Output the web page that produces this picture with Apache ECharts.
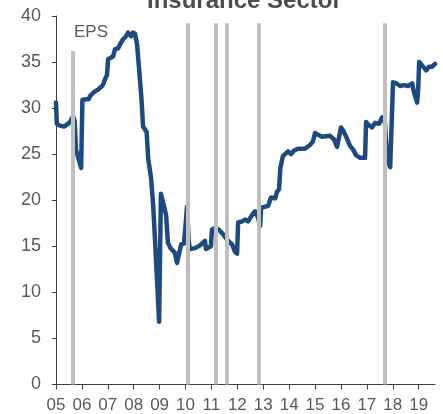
<!DOCTYPE html>
<html>
<head>
<meta charset="utf-8">
<script src="https://cdn.jsdelivr.net/npm/echarts@6/dist/echarts.min.js"></script>
<style>
html,body{margin:0;padding:0;background:#fff;}
#chart{width:443px;height:414px;}
</style>
</head>
<body>
<div id="chart"></div>
<script>
// Data
var titleText = 'Insurance Sector';
var seriesLabel = 'EPS';
var epsYears = [2005.00,2005.03,2005.15,2005.31,2005.42,2005.54,2005.66,2005.72,2005.77,2005.90,2005.97,
  2006.02,2006.27,2006.31,2006.45,2006.51,2006.62,2006.70,2006.81,2006.90,2006.97,
  2007.01,2007.20,2007.28,2007.40,2007.47,2007.59,2007.70,2007.78,2007.90,2007.97,
  2008.05,2008.13,2008.20,2008.24,2008.30,2008.36,2008.42,2008.50,2008.56,2008.67,2008.75,2008.82,2008.98,
  2009.05,2009.13,2009.25,2009.32,2009.42,2009.48,2009.59,2009.67,2009.72,2009.83,2009.94,
  2010.00,2010.06,2010.12,2010.17,2010.37,2010.56,2010.75,2010.79,2010.98,
  2011.02,2011.14,2011.29,2011.45,2011.64,2011.80,2011.91,2011.99,
  2012.03,2012.18,2012.30,2012.41,2012.57,2012.68,2012.80,2012.88,2012.92,
  2013.07,2013.19,2013.30,2013.46,2013.53,2013.61,2013.66,2013.76,2013.96,
  2014.07,2014.19,2014.34,2014.61,2014.81,2014.92,
  2015.00,2015.12,2015.27,2015.58,2015.73,2015.85,2015.93,
  2016.00,2016.08,2016.20,2016.35,2016.47,2016.58,2016.74,2016.93,2016.97,
  2017.05,2017.20,2017.32,2017.47,2017.59,2017.70,2017.78,2017.90,2017.97,
  2018.01,2018.13,2018.28,2018.44,2018.59,2018.75,2018.82,2018.94,2018.98,
  2019.02,2019.17,2019.29,2019.40,2019.52,2019.63];
var epsValues = [30.6,28.3,28.1,28.0,28.2,28.5,29.1,28.6,25.5,24.2,23.5,
  30.9,31.0,31.3,31.7,31.8,32.0,32.2,32.5,33.2,33.6,
  35.3,35.6,36.4,36.5,36.9,37.5,37.8,38.2,37.8,38.2,
  38.1,36.9,34.5,33.1,31.0,28.0,27.8,27.4,24.5,22.4,19.5,15.8,6.8,
  20.7,19.8,18.4,15.4,14.8,14.6,14.3,13.2,13.3,15.2,15.3,
  15.5,19.3,15.6,14.7,14.8,15.1,15.6,14.7,15.0,
  16.8,17.0,16.8,16.3,15.6,15.2,14.4,14.2,
  17.6,17.7,17.9,17.7,18.4,18.8,18.1,17.2,19.2,
  19.3,19.4,20.3,20.2,20.9,21.2,23.5,24.8,25.3,
  25.0,25.4,25.6,25.6,26.0,26.4,
  27.3,27.1,26.9,27.0,26.6,25.8,26.9,
  27.9,27.6,26.9,25.9,25.5,24.9,24.6,24.6,28.5,
  28.2,27.9,28.4,28.3,29.0,28.4,24.4,23.6,23.6,
  32.8,32.7,32.4,32.5,32.4,32.7,31.7,30.6,32.0,
  35.0,34.5,34.1,34.5,34.5,34.8];
var shadeYears = [2005.63, 2010.10, 2011.18, 2011.60, 2012.84, 2017.70];
var shadeTops = [36.2, 39.2, 39.2, 39.2, 39.2, 39.2];
var xTickYears = [2005,2006,2007,2008,2009,2010,2011,2012,2013,2014,2015,2016,2017,2018,2019];
var xMin = 2005, xMax = 2019.63;
var yMin = 0, yMax = 40, yStep = 5;

var lineData = epsYears.map(function (y, i) { return [y, epsValues[i]]; });
var shadeLines = shadeYears.map(function (y, i) {
  return [{ coord: [y, 0] }, { coord: [y, shadeTops[i]] }];
});

var chart = echarts.init(document.getElementById('chart'), null, { renderer: 'canvas' });
chart.setOption({
  animation: false,
  backgroundColor: '#ffffff',
  textStyle: { fontFamily: 'Liberation Sans, Arial, sans-serif' },
  grid: { left: 56, right: 8, top: 16, bottom: 29.5, containLabel: false },
  xAxis: {
    type: 'value', min: xMin, max: xMax,
    axisLine: { show: true, lineStyle: { color: '#404040', width: 1 } },
    axisTick: { show: true, length: 5, inside: false, customValues: xTickYears, lineStyle: { color: '#404040' } },
    axisLabel: {
      customValues: xTickYears, color: '#595959', fontSize: 17, margin: 12,
      fontFamily: 'Liberation Sans, Arial, sans-serif',
      formatter: function (v) { var s = String(Math.round(v) % 100); return s.length < 2 ? '0' + s : s; }
    },
    splitLine: { show: false }
  },
  yAxis: {
    type: 'value', min: yMin, max: yMax, interval: yStep,
    axisLine: { show: true, lineStyle: { color: '#404040', width: 1 } },
    axisTick: { show: true, length: 4, lineStyle: { color: '#404040' } },
    axisLabel: { color: '#595959', fontSize: 18, margin: 15, fontFamily: 'Liberation Sans, Arial, sans-serif' },
    splitLine: { show: false }
  },
  graphic: [
    { type: 'text', left: 147, top: -11,
      style: { text: titleText, fontSize: 24, fontWeight: 'bold', fill: '#4d4d4d', fontFamily: 'Liberation Sans, Arial, sans-serif' } },
    { type: 'text', left: 74, top: 24,
      style: { text: seriesLabel, fontSize: 17, fill: '#595959', fontFamily: 'Liberation Sans, Arial, sans-serif' } }
  ],
  series: [
    {
      type: 'line', data: [], silent: true, z: 1,
      markLine: {
        silent: true, symbol: ['none', 'none'], animation: false,
        label: { show: false },
        lineStyle: { color: '#bfbfbf', width: 4, type: 'solid', cap: 'butt' },
        emphasis: { disabled: true },
        data: shadeLines
      }
    },
    {
      type: 'line', data: lineData, showSymbol: false, symbol: 'none', z: 3,
      lineStyle: { color: '#1f4a7e', width: 4.5, join: 'round', cap: 'round' }
    }
  ]
});
</script>
</body>
</html>
